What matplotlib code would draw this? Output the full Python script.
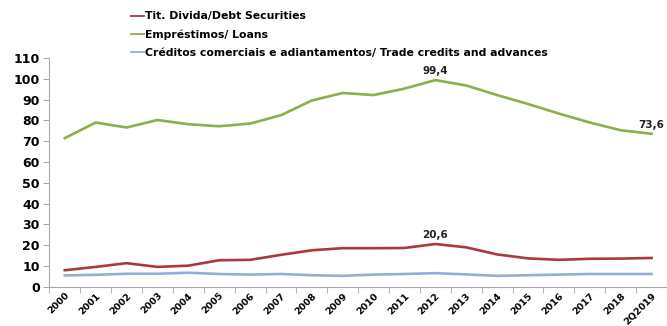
import matplotlib.pyplot as plt
import numpy as np

anos = ["2000", "2001", "2002", "2003", "2004", "2005", "2006", "2007", "2008", "2009",
        "2010", "2011", "2012", "2013", "2014", "2015", "2016", "2017", "2018", "2Q2019"]
titulos = [8.0, 9.6, 11.4, 9.6, 10.2, 12.8, 13.0, 15.4, 17.6, 18.6,
           18.6, 18.7, 20.6, 19.0, 15.6, 13.7, 13.0, 13.5, 13.6, 13.9]
emprestimos = [71.5, 79.0, 76.6, 80.2, 78.2, 77.2, 78.5, 82.5, 89.6, 93.2,
               92.2, 95.3, 99.4, 96.8, 92.2, 87.9, 83.3, 79.0, 75.3, 73.6]
creditos = [5.5, 5.8, 6.3, 6.3, 6.8, 6.2, 5.9, 6.2, 5.6, 5.3,
            5.9, 6.2, 6.6, 6.0, 5.3, 5.6, 5.9, 6.2, 6.2, 6.2]

x = np.arange(len(anos))

fig = plt.figure(figsize=(6.67, 3.26), dpi=100)
ax = fig.add_axes([0.074, 0.12, 0.926, 0.702])

ax.plot(x, titulos, color="#A93A3C", lw=1.9, label="Tit. Divida/Debt Securities")
ax.plot(x, emprestimos, color="#8CAE4B", lw=1.9, label="Empréstimos/ Loans")
ax.plot(x, creditos, color="#93AED6", lw=1.9,
        label="Créditos comerciais e adiantamentos/ Trade credits and advances")

for xi, yi, txt in [(12, 99.4, "99,4"), (19, 73.6, "73,6"), (12, 20.6, "20,6")]:
    ax.annotate(txt, (xi, yi), xytext=(0, 3), textcoords="offset points",
                ha="center", va="bottom", fontsize=7.5, fontweight="bold", color="#222222")

ax.set_xlim(-0.5, 19.5)
ax.set_ylim(0, 110)
ax.set_yticks(range(0, 111, 10))
ax.tick_params(axis="y", labelsize=9, length=4, color="#AAAAAA", pad=3)
for t in ax.get_yticklabels():
    t.set_fontweight("bold")

ax.set_xticks(x)
ax.set_xticklabels(anos, rotation=45, ha="right", rotation_mode="anchor",
                   fontsize=6.8, fontweight="bold")
ax.tick_params(axis="x", length=0, pad=3)
ax.set_xticks(np.arange(-0.5, 20, 1), minor=True)
ax.tick_params(axis="x", which="minor", length=4, color="#AAAAAA")

for s in ["top", "right"]:
    ax.spines[s].set_visible(False)
for s in ["left", "bottom"]:
    ax.spines[s].set_color("#AAAAAA")

leg = fig.legend(loc="upper left", bbox_to_anchor=(0.182, 0.995), frameon=False,
                 handlelength=1.2, handletextpad=0.1, labelspacing=0.75,
                 prop={"weight": "bold", "size": 7.8})
for line in leg.get_lines():
    line.set_linewidth(1.3)

fig.savefig("out.png", dpi=100)
